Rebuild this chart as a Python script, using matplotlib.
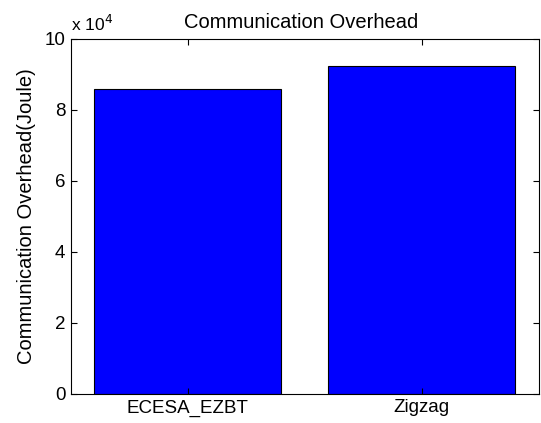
import matplotlib
matplotlib.use('Agg')
import matplotlib.pyplot as plt
from matplotlib.ticker import FuncFormatter

plt.rcParams['font.family'] = ['Liberation Sans', 'DejaVu Sans']

methods = ['ECESA_EZBT', 'Zigzag']
overhead = [85900, 92400]

fig = plt.figure(figsize=(5.41, 4.23), dpi=100)
ax = fig.add_axes([0.131, 0.069, 0.865, 0.839])

pos = [1, 2]
ax.bar(pos, overhead, width=0.8, color=(0, 0, 1), edgecolor='black', linewidth=0.8)

ax.set_xlim(0.5, 2.5)
ax.set_ylim(0, 100000)
ax.set_xticks(pos)
ax.set_xticklabels(methods)
ax.set_yticks([0, 20000, 40000, 60000, 80000, 100000])
ax.yaxis.set_major_formatter(FuncFormatter(lambda v, p: '%g' % (v / 1e4)))

ax.text(0.0, 1.015, r'x 10$^4$', transform=ax.transAxes, fontsize=12.5,
        ha='left', va='bottom')

ax.tick_params(direction='in', length=4, width=0.8, labelsize=13.5,
               top=True, right=True, pad=4)
for s in ax.spines.values():
    s.set_linewidth(0.8)

ax.set_ylabel('Communication Overhead(Joule)', fontsize=14.5, labelpad=6)
ax.set_title('Communication Overhead', fontsize=14.5, pad=8, x=0.4915)

fig.savefig('out.png', dpi=100)
